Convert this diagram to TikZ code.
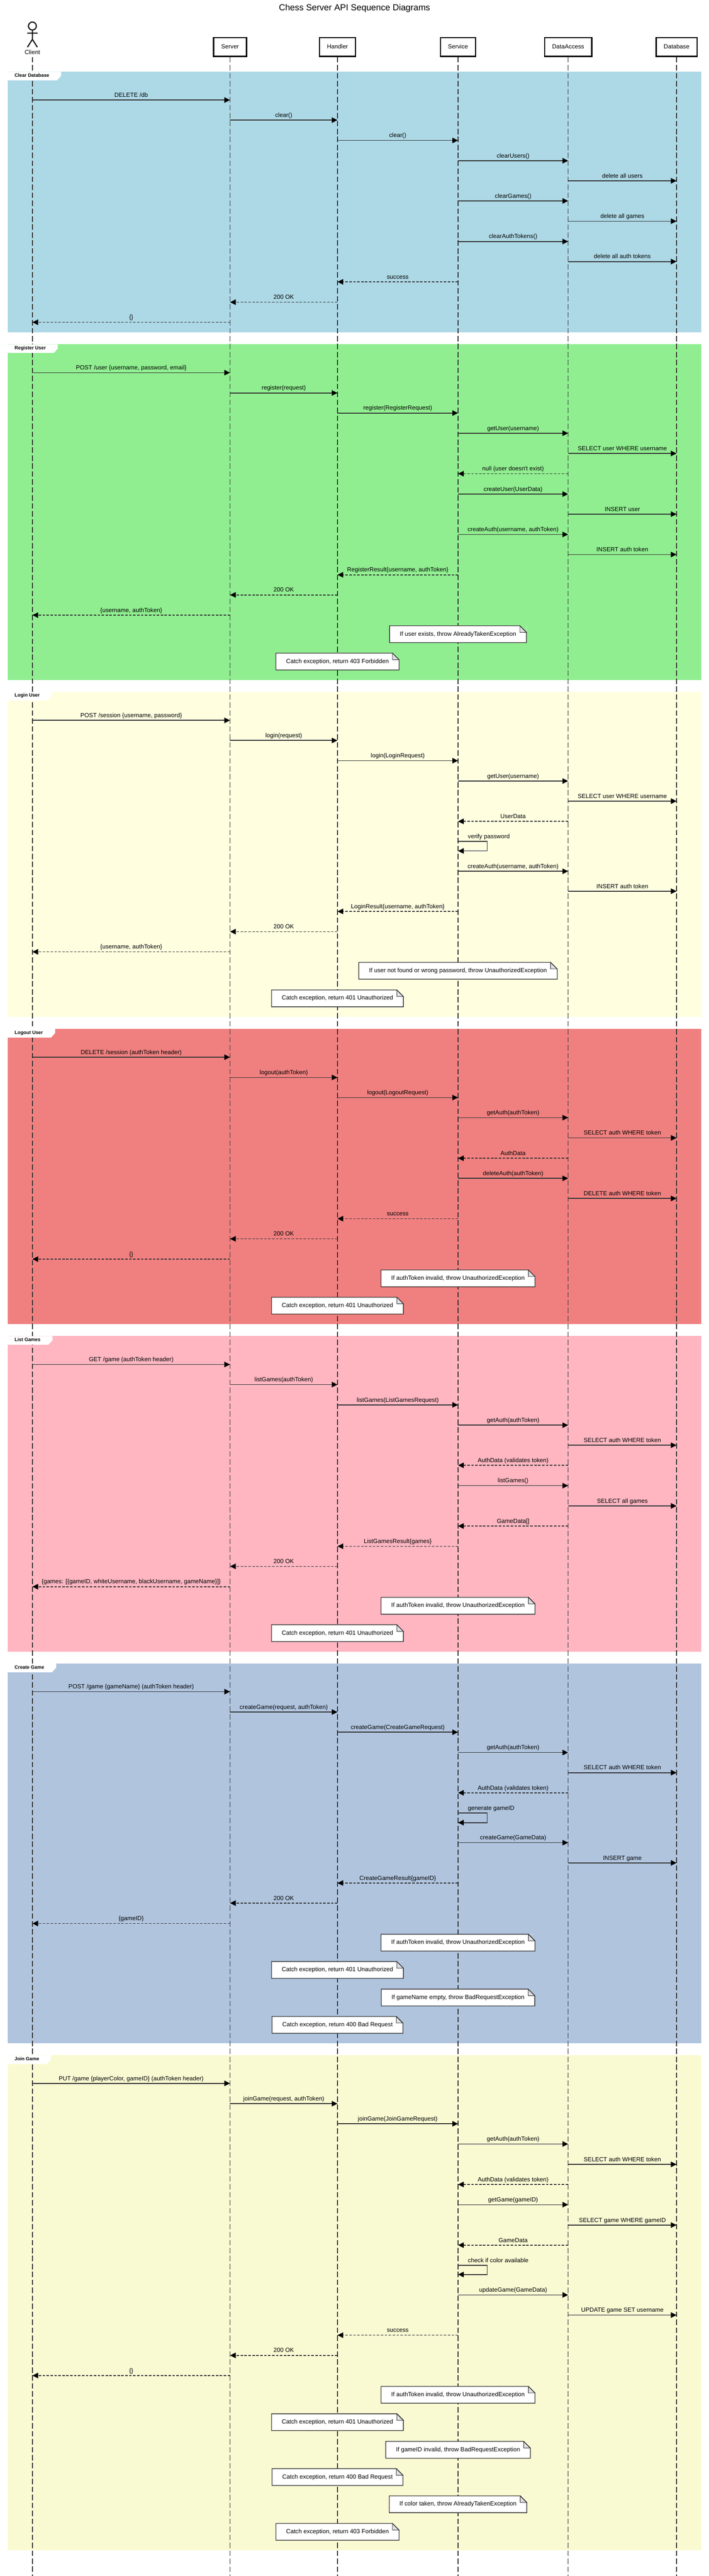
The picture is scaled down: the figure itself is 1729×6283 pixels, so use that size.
\documentclass[tikz,border=0pt]{standalone}
\usepackage{fontspec}
\setmainfont{Liberation Sans}
\usetikzlibrary{arrows.meta}
\definecolor{linegrey}{HTML}{333333}
\definecolor{foldgrey}{HTML}{E2E2E6}
\definecolor{secblue}{HTML}{ADD8E6}
\definecolor{secgreen}{HTML}{90EE90}
\definecolor{secyellow}{HTML}{FFFFE0}
\definecolor{seccoral}{HTML}{F08080}
\definecolor{secpink}{HTML}{FFB6C1}
\definecolor{secsteel}{HTML}{B0C4DE}
\definecolor{secgold}{HTML}{FAFAD2}
\newcounter{labeln}
\tikzset{
  msgfont/.style={font=\fontsize{14.67}{17}\selectfont},
  actorbox/.style={msgfont,draw=black,line width=3pt,fill=white,inner xsep=18.5pt,inner ysep=0pt,minimum height=46.3pt,text height=11pt,text depth=3pt,outer sep=1.5pt},
  actorname/.style={msgfont,inner sep=0pt,minimum height=22pt,text height=11pt,text depth=3pt},
  stickline/.style={draw=black,line width=2.6pt},
  lifeline/.style={draw=linegrey,line width=1.8pt,dash pattern=on 13.33pt off 6.1pt},
  tipstyle/.style={-{Triangle[length=14pt,width=13.4pt,fill=black,color=black]}},
  callline/.style={draw=linegrey,line width=2pt,tipstyle},
  returnline/.style={draw=linegrey,line width=2pt,dash pattern=on 6pt off 3.6pt,tipstyle},
  msglabel/.style={msgfont,anchor=base,inner sep=0pt,yshift=7.3pt},
  selflabel/.style={msgfont,anchor=base west,inner sep=0pt,xshift=24pt,yshift=7.3pt},
  notetext/.style={msgfont,fill=white,inner xsep=25pt,inner ysep=0pt,outer sep=0pt,minimum height=41pt,text height=11pt,text depth=3pt},
  noteline/.style={draw=linegrey,line width=1.7pt,line join=miter},
  foldline/.style={draw=linegrey,line width=1.2pt,fill=foldgrey},
  tablabel/.style={font=\fontsize{11.7}{14}\bfseries\selectfont,anchor=west,inner sep=0pt,text height=9pt,text depth=2.5pt},
  titletext/.style={font=\fontsize{21.33}{25}\selectfont,anchor=base,inner sep=0pt},
}
\newcommand{\callmsg}[4]{\stepcounter{labeln}\draw[callline] (#1 |- 0,#3) -- node[msglabel] (m\arabic{labeln}) {#4} (#2 |- 0,#3);}
\newcommand{\retmsg}[4]{\stepcounter{labeln}\draw[returnline] (#1 |- 0,#3) -- node[msglabel] (m\arabic{labeln}) {#4} (#2 |- 0,#3);}
\newcommand{\selfmsg}[4]{\stepcounter{labeln}%
  \node[selflabel] (m\arabic{labeln}) at (#1 |- 0,#2) {#4};
  \draw[callline] (#1 |- 0,#2) -- ++(71,0) -- ++(0,#3) -- (#1 |- 0,#2+#3);}
\newcommand{\notebox}[4]{\stepcounter{labeln}%
  \node[notetext] (n\arabic{labeln}) at (#2 |- 0,#3) {#4};
  \fill[#1] ([xshift=-16pt]n\arabic{labeln}.north east) -- (n\arabic{labeln}.north east) -- ([yshift=-16pt]n\arabic{labeln}.north east) -- cycle;
  \draw[foldline] ([xshift=-16pt]n\arabic{labeln}.north east) -- ([xshift=-16pt,yshift=-16pt]n\arabic{labeln}.north east) -- ([yshift=-16pt]n\arabic{labeln}.north east) -- cycle;
  \draw[noteline] (n\arabic{labeln}.north west) -- ([xshift=-16pt]n\arabic{labeln}.north east) -- ([yshift=-16pt]n\arabic{labeln}.north east) -- (n\arabic{labeln}.south east) -- (n\arabic{labeln}.south west) -- cycle;}
\newcommand{\seqtab}[4]{\stepcounter{labeln}%
  \fill[white] (19,#1) -- (#2,#1) -- (#2,#1+10) -- (#2-10,#1+21) -- (19,#1+21) -- cycle;
  \node[tablabel] (t\arabic{labeln}) at (35.5,#1+9.3) {#3};}
\begin{document}
\begin{tikzpicture}[x=1pt,y=-1pt]
\useasboundingbox (0,0) rectangle (1729,6283);
\fill[white] (0,0) rectangle (1729,6283);
% section backgrounds
\fill[secblue]   (19,175)    rectangle (1710,811);
\fill[secgreen]  (19,840)    rectangle (1710,1659);
\fill[secyellow] (19,1687.5) rectangle (1710,2481);
\fill[seccoral]  (19,2509.6) rectangle (1710,3230);
\fill[secpink]   (19,3258.7) rectangle (1710,4028.6);
\fill[secsteel]  (19,4057.6) rectangle (1710,4983.6);
\fill[secgold]   (19,5013)   rectangle (1710,6220);
% title
\node[titletext] (title) at (864.5,26) {Chess Server API Sequence Diagrams};
% participants
\draw[stickline] (79,63.5) circle[radius=9.7pt];
\draw[stickline] (79,73.5) -- (79,96) (66.5,81) -- (92,81) (67,115) -- (79,96) -- (91,115);
\node[actorname] (client) at (79,128) {Client};
\node[actorbox] (server)  at (561,114.6)  {Server};
\node[actorbox] (handler) at (823,114.6)  {Handler};
\node[actorbox] (service) at (1117,114.6) {Service};
\node[actorbox] (access)  at (1385.6,114.6) {DataAccess};
\node[actorbox] (db)      at (1650,114.6) {Database};
% lifelines
\foreach \p in {client,server,handler,service,access,db}{
  \coordinate (\p-end) at (\p |- 0,6283);
  \draw[lifeline] (\p.south) -- (\p-end);
}
% section tabs
\seqtab{175}{149}{Clear Database}{}
\seqtab{840}{141}{Register User}{}
\seqtab{1687.5}{126}{Login User}{}
\seqtab{2509.6}{134.5}{Logout User}{}
\seqtab{3258.7}{128}{List Games}{}
\seqtab{4057.6}{137}{Create Game}{}
\seqtab{5013}{124.6}{Join Game}{}
% Clear Database
\callmsg{client}{server}{244}{DELETE /db}
\callmsg{server}{handler}{293}{clear()}
\callmsg{handler}{service}{342.5}{clear()}
\callmsg{service}{access}{392}{clearUsers()}
\callmsg{access}{db}{441}{delete all users}
\callmsg{service}{access}{490}{clearGames()}
\callmsg{access}{db}{539.5}{delete all games}
\callmsg{service}{access}{589}{clearAuthTokens()}
\callmsg{access}{db}{638}{delete all auth tokens}
\retmsg{service}{handler}{687.5}{success}
\retmsg{handler}{server}{737}{200 OK}
\retmsg{server}{client}{786}{\{\}}
% Register User
\callmsg{client}{server}{909}{POST /user \{username, password, email\}}
\callmsg{server}{handler}{958.4}{register(request)}
\callmsg{handler}{service}{1007.5}{register(RegisterRequest)}
\callmsg{service}{access}{1056.6}{getUser(username)}
\callmsg{access}{db}{1106}{SELECT user WHERE username}
\retmsg{access}{service}{1155.3}{null (user doesn\textquotesingle t exist)}
\callmsg{service}{access}{1205}{createUser(UserData)}
\callmsg{access}{db}{1254}{INSERT user}
\callmsg{service}{access}{1303.5}{createAuth(username, authToken)}
\callmsg{access}{db}{1352.5}{INSERT auth token}
\retmsg{service}{handler}{1402}{RegisterResult\{username, authToken\}}
\retmsg{handler}{server}{1451}{200 OK}
\retmsg{server}{client}{1500.3}{\{username, authToken\}}
\notebox{secgreen}{service}{1546.7}{If user exists, throw AlreadyTakenException}
\notebox{secgreen}{handler}{1613.5}{Catch exception, return 403 Forbidden}
% Login User
\callmsg{client}{server}{1757}{POST /session \{username, password\}}
\callmsg{server}{handler}{1806}{login(request)}
\callmsg{handler}{service}{1855.3}{login(LoginRequest)}
\callmsg{service}{access}{1905}{getUser(username)}
\callmsg{access}{db}{1954}{SELECT user WHERE username}
\retmsg{access}{service}{2003.3}{UserData}
\selfmsg{service}{2052}{23.5}{verify password}
\callmsg{service}{access}{2125}{createAuth(username, authToken)}
\callmsg{access}{db}{2173.7}{INSERT auth token}
\retmsg{service}{handler}{2223}{LoginResult\{username, authToken\}}
\retmsg{handler}{server}{2272.3}{200 OK}
\retmsg{server}{client}{2321.5}{\{username, authToken\}}
\notebox{secyellow}{service}{2367.8}{If user not found or wrong password, throw UnauthorizedException}
\notebox{secyellow}{handler}{2435}{Catch exception, return 401 Unauthorized}
% Logout User
\callmsg{client}{server}{2578.5}{DELETE /session (authToken header)}
\callmsg{server}{handler}{2628}{logout(authToken)}
\callmsg{handler}{service}{2677}{logout(LogoutRequest)}
\callmsg{service}{access}{2726}{getAuth(authToken)}
\callmsg{access}{db}{2775.4}{SELECT auth WHERE token}
\retmsg{access}{service}{2825}{AuthData}
\callmsg{service}{access}{2874}{deleteAuth(authToken)}
\callmsg{access}{db}{2923}{DELETE auth WHERE token}
\retmsg{service}{handler}{2972.3}{success}
\retmsg{handler}{server}{3021.5}{200 OK}
\retmsg{server}{client}{3071}{\{\}}
\notebox{seccoral}{service}{3118}{If authToken invalid, throw UnauthorizedException}
\notebox{seccoral}{handler}{3184.5}{Catch exception, return 401 Unauthorized}
% List Games
\callmsg{client}{server}{3328}{GET /game (authToken header)}
\callmsg{server}{handler}{3377}{listGames(authToken)}
\callmsg{handler}{service}{3426.5}{listGames(ListGamesRequest)}
\callmsg{service}{access}{3476}{getAuth(authToken)}
\callmsg{access}{db}{3525}{SELECT auth WHERE token}
\retmsg{access}{service}{3574}{AuthData (validates token)}
\callmsg{service}{access}{3623.5}{listGames()}
\callmsg{access}{db}{3673}{SELECT all games}
\retmsg{access}{service}{3722}{GameData[]}
\retmsg{service}{handler}{3771.4}{ListGamesResult\{games\}}
\retmsg{handler}{server}{3820.4}{200 OK}
\retmsg{server}{client}{3870}{\{games: [\{gameID, whiteUsername, blackUsername, gameName\}]\}}
\notebox{secpink}{service}{3916.5}{If authToken invalid, throw UnauthorizedException}
\notebox{secpink}{handler}{3983.3}{Catch exception, return 401 Unauthorized}
% Create Game
\callmsg{client}{server}{4126}{POST /game \{gameName\} (authToken header)}
\callmsg{server}{handler}{4175.7}{createGame(request, authToken)}
\callmsg{handler}{service}{4225}{createGame(CreateGameRequest)}
\callmsg{service}{access}{4274.5}{getAuth(authToken)}
\callmsg{access}{db}{4323.6}{SELECT auth WHERE token}
\retmsg{access}{service}{4372.7}{AuthData (validates token)}
\selfmsg{service}{4422}{23.5}{generate gameID}
\callmsg{service}{access}{4494.3}{createGame(GameData)}
\callmsg{access}{db}{4543.6}{INSERT game}
\retmsg{service}{handler}{4592.7}{CreateGameResult\{gameID\}}
\retmsg{handler}{server}{4641.8}{200 OK}
\retmsg{server}{client}{4691.5}{\{gameID\}}
\notebox{secsteel}{service}{4738.2}{If authToken invalid, throw UnauthorizedException}
\notebox{secsteel}{handler}{4804.8}{Catch exception, return 401 Unauthorized}
\notebox{secsteel}{service}{4872}{If gameName empty, throw BadRequestException}
\notebox{secsteel}{handler}{4938.8}{Catch exception, return 400 Bad Request}
% Join Game
\callmsg{client}{server}{5081.4}{PUT /game \{playerColor, gameID\} (authToken header)}
\callmsg{server}{handler}{5131}{joinGame(request, authToken)}
\callmsg{handler}{service}{5180}{joinGame(JoinGameRequest)}
\callmsg{service}{access}{5229.3}{getAuth(authToken)}
\callmsg{access}{db}{5279}{SELECT auth WHERE token}
\retmsg{access}{service}{5328}{AuthData (validates token)}
\callmsg{service}{access}{5377.3}{getGame(gameID)}
\callmsg{access}{db}{5427}{SELECT game WHERE gameID}
\retmsg{access}{service}{5476}{GameData}
\selfmsg{service}{5525}{22.6}{check if color available}
\callmsg{service}{access}{5597.4}{updateGame(GameData)}
\callmsg{access}{db}{5646.5}{UPDATE game SET username}
\retmsg{service}{handler}{5695.5}{success}
\retmsg{handler}{server}{5744.8}{200 OK}
\retmsg{server}{client}{5794}{\{\}}
\notebox{secgold}{service}{5841}{If authToken invalid, throw UnauthorizedException}
\notebox{secgold}{handler}{5907.7}{Catch exception, return 401 Unauthorized}
\notebox{secgold}{service}{5975.2}{If gameID invalid, throw BadRequestException}
\notebox{secgold}{handler}{6041.6}{Catch exception, return 400 Bad Request}
\notebox{secgold}{service}{6108}{If color taken, throw AlreadyTakenException}
\notebox{secgold}{handler}{6175.3}{Catch exception, return 403 Forbidden}
\end{tikzpicture}
\end{document}
